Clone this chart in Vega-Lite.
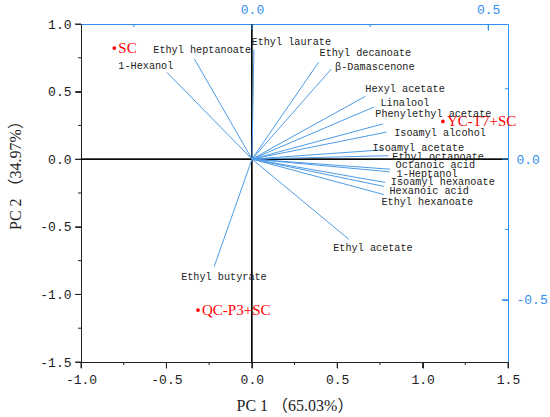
{
  "$schema": "https://vega.github.io/schema/vega-lite/v6.json",
  "description": "PCA biplot of samples and volatile compounds",
  "autosize": "none",
  "width": 427,
  "height": 338,
  "padding": {"left": 81, "top": 24, "right": 42, "bottom": 55},
  "background": "white",
  "config": {
    "view": {"stroke": null, "fill": null},
    "axis": {"grid": false, "ticks": true, "tickWidth": 1, "tickOpacity": 1, "zindex": 1, "labelFlush": false, "labelOverlap": false, "labelFont": "Liberation Mono", "labelFontSize": 13}
  },
  "datasets": {
    "scores": [
      {"sample": "SC", "pc1": -0.805, "pc2": 0.822},
      {"sample": "YC-T7+SC", "pc1": 1.119, "pc2": 0.279},
      {"sample": "QC-P3+SC", "pc1": -0.315, "pc2": -1.116}
    ],
    "axisticks": [
      {"axis": "bottom", "kind": "major", "value": -1},
      {"axis": "bottom", "kind": "major", "value": -0.5},
      {"axis": "bottom", "kind": "major", "value": 0},
      {"axis": "bottom", "kind": "major", "value": 0.5},
      {"axis": "bottom", "kind": "major", "value": 1},
      {"axis": "bottom", "kind": "major", "value": 1.5},
      {"axis": "bottom", "kind": "minor", "value": -0.75},
      {"axis": "bottom", "kind": "minor", "value": -0.25},
      {"axis": "bottom", "kind": "minor", "value": 0.25},
      {"axis": "bottom", "kind": "minor", "value": 0.75},
      {"axis": "bottom", "kind": "minor", "value": 1.25},
      {"axis": "left", "kind": "major", "value": -1.5},
      {"axis": "left", "kind": "major", "value": -1},
      {"axis": "left", "kind": "major", "value": -0.5},
      {"axis": "left", "kind": "major", "value": 0},
      {"axis": "left", "kind": "major", "value": 0.5},
      {"axis": "left", "kind": "major", "value": 1},
      {"axis": "left", "kind": "minor", "value": -1.25},
      {"axis": "left", "kind": "minor", "value": -0.75},
      {"axis": "left", "kind": "minor", "value": -0.25},
      {"axis": "left", "kind": "minor", "value": 0.25},
      {"axis": "left", "kind": "minor", "value": 0.75},
      {"axis": "top", "kind": "major", "value": 0},
      {"axis": "top", "kind": "major", "value": 0.5},
      {"axis": "top", "kind": "minor", "value": -0.25},
      {"axis": "top", "kind": "minor", "value": 0.25},
      {"axis": "right", "kind": "major", "value": -0.5},
      {"axis": "right", "kind": "major", "value": 0},
      {"axis": "right", "kind": "minor", "value": -0.25},
      {"axis": "right", "kind": "minor", "value": 0.25}
    ],
    "loadings": [
      {"variable": "1-Hexanol", "x": -0.180, "y": 0.308, "lx": -0.283, "ly": 0.332},
      {"variable": "Ethyl heptanoate", "x": -0.122, "y": 0.356, "lx": -0.209, "ly": 0.389},
      {"variable": "Ethyl laurate", "x": 0.004, "y": 0.389, "lx": -0.001, "ly": 0.417},
      {"variable": "Ethyl decanoate", "x": 0.141, "y": 0.344, "lx": 0.143, "ly": 0.376},
      {"variable": "β-Damascenone", "x": 0.168, "y": 0.320, "lx": 0.176, "ly": 0.328},
      {"variable": "Hexyl acetate", "x": 0.240, "y": 0.223, "lx": 0.240, "ly": 0.250},
      {"variable": "Linalool", "x": 0.258, "y": 0.185, "lx": 0.272, "ly": 0.200},
      {"variable": "Phenylethyl acetate", "x": 0.277, "y": 0.125, "lx": 0.261, "ly": 0.160},
      {"variable": "Isoamyl alcohol", "x": 0.285, "y": 0.096, "lx": 0.301, "ly": 0.093},
      {"variable": "Isoamyl acetate", "x": 0.278, "y": 0.033, "lx": 0.255, "ly": 0.041},
      {"variable": "Ethyl octanoate", "x": 0.289, "y": 0.012, "lx": 0.297, "ly": 0.009},
      {"variable": "Octanoic acid", "x": 0.293, "y": -0.036, "lx": 0.304, "ly": -0.021},
      {"variable": "1-Heptanol", "x": 0.291, "y": -0.045, "lx": 0.306, "ly": -0.052},
      {"variable": "Isoamyl hexanoate", "x": 0.282, "y": -0.083, "lx": 0.294, "ly": -0.083},
      {"variable": "Hexanoic acid", "x": 0.279, "y": -0.097, "lx": 0.291, "ly": -0.115},
      {"variable": "Ethyl hexanoate", "x": 0.279, "y": -0.126, "lx": 0.274, "ly": -0.152},
      {"variable": "Ethyl acetate", "x": 0.205, "y": -0.285, "lx": 0.172, "ly": -0.316},
      {"variable": "Ethyl butyrate", "x": -0.080, "y": -0.382, "lx": -0.150, "ly": -0.419}
    ]
  },
  "layer": [
    {
      "data": {"name": "scores"},
      "layer": [
        {
          "mark": {"type": "rule", "color": "#000", "strokeWidth": 1},
          "encoding": {"x": {"datum": 0, "type": "quantitative", "scale": {"domain": [-1, 1.5], "nice": false, "zero": false}, "axis": null}}
        },
        {
          "mark": {"type": "rule", "color": "#000", "strokeWidth": 1},
          "encoding": {"y": {"datum": 0, "type": "quantitative", "scale": {"domain": [-1.5, 1.0], "nice": false, "zero": false}, "axis": null}}
        },
        {
          "data": {"name": "axisticks"},
          "transform": [{"filter": "datum.axis === 'bottom' && datum.kind === 'major'"}],
          "mark": {"type": "tick", "orient": "vertical", "size": 6, "thickness": 1, "color": "#222", "opacity": 1, "yOffset": 3},
          "encoding": {
            "x": {"field": "value", "type": "quantitative", "axis": null},
            "y": {"datum": -1.5, "type": "quantitative", "axis": null}
          }
        },
        {
          "data": {"name": "axisticks"},
          "transform": [{"filter": "datum.axis === 'bottom' && datum.kind === 'minor'"}],
          "mark": {"type": "tick", "orient": "vertical", "size": 3, "thickness": 1, "color": "#222", "opacity": 1, "yOffset": 1.5},
          "encoding": {
            "x": {"field": "value", "type": "quantitative", "axis": null},
            "y": {"datum": -1.5, "type": "quantitative", "axis": null}
          }
        },
        {
          "data": {"name": "axisticks"},
          "transform": [{"filter": "datum.axis === 'left' && datum.kind === 'major'"}],
          "mark": {"type": "tick", "orient": "horizontal", "size": 6, "thickness": 1, "color": "#222", "opacity": 1, "xOffset": -3},
          "encoding": {
            "y": {"field": "value", "type": "quantitative", "axis": null},
            "x": {"datum": -1, "type": "quantitative", "axis": null}
          }
        },
        {
          "data": {"name": "axisticks"},
          "transform": [{"filter": "datum.axis === 'left' && datum.kind === 'minor'"}],
          "mark": {"type": "tick", "orient": "horizontal", "size": 3, "thickness": 1, "color": "#222", "opacity": 1, "xOffset": -1.5},
          "encoding": {
            "y": {"field": "value", "type": "quantitative", "axis": null},
            "x": {"datum": -1, "type": "quantitative", "axis": null}
          }
        },
        {
          "mark": {"type": "point", "filled": true, "shape": "circle", "size": 14, "color": "#ff0000", "opacity": 1},
          "encoding": {
            "x": {
              "field": "pc1",
              "type": "quantitative",
              "scale": {"domain": [-1, 1.5], "nice": false, "zero": false},
              "axis": {
                "orient": "bottom",
                "values": [-1, -0.5, 0, 0.5, 1, 1.5],
                "labelExpr": "(datum.value < 0 ? '-' : '') + format(abs(datum.value), '.1f')",
                "domainColor": "#222",
                "ticks": true,
                "tickColor": "#222",
                "tickSize": 6,
                "labelColor": "#222",
                "labelPadding": 5,
                "title": "PC 1 （65.03%）",
                "titleFont": "Liberation Serif, Noto Sans CJK SC",
                "titleFontSize": 16,
                "titleFontWeight": "normal",
                "titleColor": "#222",
                "titleBaseline": "middle",
                "titleY": 43
              }
            },
            "y": {
              "field": "pc2",
              "type": "quantitative",
              "scale": {"domain": [-1.5, 1.0], "nice": false, "zero": false},
              "axis": {
                "orient": "left",
                "values": [-1.5, -1, -0.5, 0, 0.5, 1],
                "labelExpr": "(datum.value < 0 ? '-' : '') + format(abs(datum.value), '.1f')",
                "domainColor": "#222",
                "ticks": true,
                "tickColor": "#222",
                "tickSize": 6,
                "labelColor": "#222",
                "labelPadding": 4,
                "title": "PC 2 （34.97%）",
                "titleFont": "Liberation Serif, Noto Sans CJK SC",
                "titleFontSize": 16,
                "titleFontWeight": "normal",
                "titleColor": "#222",
                "titleAngle": -90,
                "titleBaseline": "middle",
                "titleAlign": "center",
                "titleX": -66,
                "titleY": 147
              }
            }
          }
        },
        {
          "mark": {"type": "text", "align": "left", "baseline": "middle", "dx": 4, "font": "Liberation Serif", "fontSize": 15, "color": "#ff0000"},
          "encoding": {
            "x": {"field": "pc1", "type": "quantitative", "axis": null},
            "y": {"field": "pc2", "type": "quantitative", "axis": null},
            "text": {"field": "sample"}
          }
        }
      ],
      "resolve": {"axis": {"x": "independent", "y": "independent"}}
    },
    {
      "data": {"name": "loadings"},
      "layer": [
        {
          "mark": {"type": "rule", "color": "#4d9be6", "strokeWidth": 1},
          "encoding": {
            "x": {
              "field": "x",
              "type": "quantitative",
              "scale": {"domain": [-0.362, 0.542], "nice": false, "zero": false},
              "axis": {
                "orient": "top",
                "values": [0, 0.5],
                "labelExpr": "format(datum.value, '.1f')",
                "domainColor": "#2f8fee",
                "ticks": true,
                "tickColor": "#2f8fee",
                "tickSize": -6,
                "labelColor": "#2f8fee",
                "labelPadding": 14,
                "title": null
              }
            },
            "y": {
              "field": "y",
              "type": "quantitative",
              "scale": {"domain": [-0.721, 0.48], "nice": false, "zero": false},
              "axis": {
                "orient": "right",
                "values": [-0.5, 0],
                "labelExpr": "(datum.value < 0 ? '-' : '') + format(abs(datum.value), '.1f')",
                "domainColor": "#2f8fee",
                "ticks": true,
                "tickColor": "#2f8fee",
                "tickSize": -6,
                "labelColor": "#2f8fee",
                "labelPadding": 14,
                "title": null
              }
            },
            "x2": {"datum": 0},
            "y2": {"datum": 0}
          }
        },
        {
          "data": {"name": "axisticks"},
          "transform": [{"filter": "datum.axis === 'top' && datum.kind === 'major'"}],
          "mark": {"type": "tick", "orient": "vertical", "size": 6, "thickness": 1, "color": "#2f8fee", "opacity": 1, "yOffset": 3},
          "encoding": {
            "x": {"field": "value", "type": "quantitative", "axis": null},
            "y": {"datum": 0.48, "type": "quantitative", "axis": null}
          }
        },
        {
          "data": {"name": "axisticks"},
          "transform": [{"filter": "datum.axis === 'top' && datum.kind === 'minor'"}],
          "mark": {"type": "tick", "orient": "vertical", "size": 3, "thickness": 1, "color": "#2f8fee", "opacity": 1, "yOffset": 1.5},
          "encoding": {
            "x": {"field": "value", "type": "quantitative", "axis": null},
            "y": {"datum": 0.48, "type": "quantitative", "axis": null}
          }
        },
        {
          "data": {"name": "axisticks"},
          "transform": [{"filter": "datum.axis === 'right' && datum.kind === 'major'"}],
          "mark": {"type": "tick", "orient": "horizontal", "size": 6, "thickness": 1, "color": "#2f8fee", "opacity": 1, "xOffset": -3},
          "encoding": {
            "y": {"field": "value", "type": "quantitative", "axis": null},
            "x": {"datum": 0.542, "type": "quantitative", "axis": null}
          }
        },
        {
          "data": {"name": "axisticks"},
          "transform": [{"filter": "datum.axis === 'right' && datum.kind === 'minor'"}],
          "mark": {"type": "tick", "orient": "horizontal", "size": 3, "thickness": 1, "color": "#2f8fee", "opacity": 1, "xOffset": -1.5},
          "encoding": {
            "y": {"field": "value", "type": "quantitative", "axis": null},
            "x": {"datum": 0.542, "type": "quantitative", "axis": null}
          }
        },
        {
          "mark": {"type": "text", "align": "left", "baseline": "middle", "font": "Liberation Mono", "fontSize": 10.2, "color": "#222"},
          "encoding": {
            "x": {"field": "lx", "type": "quantitative", "axis": null},
            "y": {"field": "ly", "type": "quantitative", "axis": null},
            "text": {"field": "variable"}
          }
        }
      ],
      "resolve": {"axis": {"x": "independent", "y": "independent"}}
    }
  ],
  "resolve": {"scale": {"x": "independent", "y": "independent"}, "axis": {"x": "independent", "y": "independent"}}
}
